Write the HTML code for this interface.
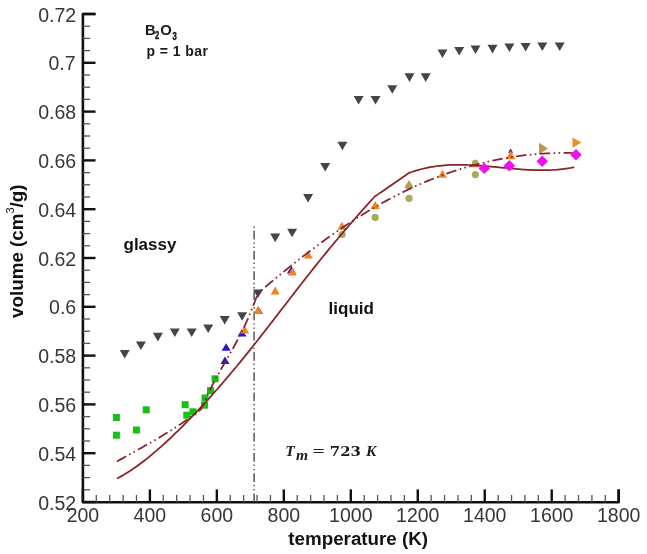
<!DOCTYPE html>
<html><head><meta charset="utf-8"><title>B2O3 volume vs temperature</title>
<style>
html,body{margin:0;padding:0;background:#fff;}
body{width:647px;height:554px;overflow:hidden;}
svg{display:block;}
.tl{font-family:"Liberation Sans",Arial,sans-serif;font-size:19.5px;fill:#363636;}
.at{font-family:"Liberation Sans",Arial,sans-serif;font-size:18.8px;font-weight:bold;fill:#111;}
.an{font-family:"Liberation Sans",Arial,sans-serif;font-size:14.8px;font-weight:bold;fill:#1a1a1a;}
.an2{font-family:"Liberation Sans",Arial,sans-serif;font-size:14px;font-weight:bold;fill:#1a1a1a;}
.sub{font-family:"Liberation Sans",Arial,sans-serif;font-size:10.4px;font-weight:bold;fill:#1a1a1a;stroke:#1a1a1a;stroke-width:0.45px;}
.gl{font-family:"Liberation Sans",Arial,sans-serif;font-size:17px;font-weight:bold;fill:#111;}
.tmi{font-family:"Liberation Serif","DejaVu Serif",serif;font-size:15.5px;font-weight:bold;font-style:italic;fill:#1a1a1a;}
.tmr{font-family:"Liberation Serif","DejaVu Serif",serif;font-size:15px;font-weight:bold;fill:#1a1a1a;}
.tmd{font-family:"DejaVu Serif","Liberation Serif",serif;font-size:13.3px;font-weight:bold;fill:#1a1a1a;}
</style></head>
<body>
<svg width="647" height="554" viewBox="0 0 647 554">
<rect width="647" height="554" fill="#fff"/>
<path d="M95.50 14.0 H82.9 V502.2 H618.7 V489.40" fill="none" stroke="#111" stroke-width="2.6" stroke-linejoin="round"/>
<line x1="82.9" y1="14.00" x2="95.50" y2="14.00" stroke="#111" stroke-width="2.4"/>
<line x1="82.9" y1="26.20" x2="90.10" y2="26.20" stroke="#555" stroke-width="1.3"/>
<line x1="82.9" y1="38.40" x2="90.10" y2="38.40" stroke="#555" stroke-width="1.3"/>
<line x1="82.9" y1="50.60" x2="90.10" y2="50.60" stroke="#555" stroke-width="1.3"/>
<line x1="82.9" y1="62.80" x2="90.10" y2="62.80" stroke="#555" stroke-width="1.3"/>
<line x1="82.9" y1="62.80" x2="95.50" y2="62.80" stroke="#111" stroke-width="2.4"/>
<line x1="82.9" y1="75.00" x2="90.10" y2="75.00" stroke="#555" stroke-width="1.3"/>
<line x1="82.9" y1="87.20" x2="90.10" y2="87.20" stroke="#555" stroke-width="1.3"/>
<line x1="82.9" y1="99.40" x2="90.10" y2="99.40" stroke="#555" stroke-width="1.3"/>
<line x1="82.9" y1="111.60" x2="90.10" y2="111.60" stroke="#555" stroke-width="1.3"/>
<line x1="82.9" y1="111.60" x2="95.50" y2="111.60" stroke="#111" stroke-width="2.4"/>
<line x1="82.9" y1="123.80" x2="90.10" y2="123.80" stroke="#555" stroke-width="1.3"/>
<line x1="82.9" y1="136.00" x2="90.10" y2="136.00" stroke="#555" stroke-width="1.3"/>
<line x1="82.9" y1="148.20" x2="90.10" y2="148.20" stroke="#555" stroke-width="1.3"/>
<line x1="82.9" y1="160.40" x2="90.10" y2="160.40" stroke="#555" stroke-width="1.3"/>
<line x1="82.9" y1="160.40" x2="95.50" y2="160.40" stroke="#111" stroke-width="2.4"/>
<line x1="82.9" y1="172.60" x2="90.10" y2="172.60" stroke="#555" stroke-width="1.3"/>
<line x1="82.9" y1="184.80" x2="90.10" y2="184.80" stroke="#555" stroke-width="1.3"/>
<line x1="82.9" y1="197.00" x2="90.10" y2="197.00" stroke="#555" stroke-width="1.3"/>
<line x1="82.9" y1="209.20" x2="90.10" y2="209.20" stroke="#555" stroke-width="1.3"/>
<line x1="82.9" y1="209.20" x2="95.50" y2="209.20" stroke="#111" stroke-width="2.4"/>
<line x1="82.9" y1="221.40" x2="90.10" y2="221.40" stroke="#555" stroke-width="1.3"/>
<line x1="82.9" y1="233.60" x2="90.10" y2="233.60" stroke="#555" stroke-width="1.3"/>
<line x1="82.9" y1="245.80" x2="90.10" y2="245.80" stroke="#555" stroke-width="1.3"/>
<line x1="82.9" y1="258.00" x2="90.10" y2="258.00" stroke="#555" stroke-width="1.3"/>
<line x1="82.9" y1="258.00" x2="95.50" y2="258.00" stroke="#111" stroke-width="2.4"/>
<line x1="82.9" y1="270.20" x2="90.10" y2="270.20" stroke="#555" stroke-width="1.3"/>
<line x1="82.9" y1="282.40" x2="90.10" y2="282.40" stroke="#555" stroke-width="1.3"/>
<line x1="82.9" y1="294.60" x2="90.10" y2="294.60" stroke="#555" stroke-width="1.3"/>
<line x1="82.9" y1="306.80" x2="90.10" y2="306.80" stroke="#555" stroke-width="1.3"/>
<line x1="82.9" y1="306.80" x2="95.50" y2="306.80" stroke="#111" stroke-width="2.4"/>
<line x1="82.9" y1="319.00" x2="90.10" y2="319.00" stroke="#555" stroke-width="1.3"/>
<line x1="82.9" y1="331.20" x2="90.10" y2="331.20" stroke="#555" stroke-width="1.3"/>
<line x1="82.9" y1="343.40" x2="90.10" y2="343.40" stroke="#555" stroke-width="1.3"/>
<line x1="82.9" y1="355.60" x2="90.10" y2="355.60" stroke="#555" stroke-width="1.3"/>
<line x1="82.9" y1="355.60" x2="95.50" y2="355.60" stroke="#111" stroke-width="2.4"/>
<line x1="82.9" y1="367.80" x2="90.10" y2="367.80" stroke="#555" stroke-width="1.3"/>
<line x1="82.9" y1="380.00" x2="90.10" y2="380.00" stroke="#555" stroke-width="1.3"/>
<line x1="82.9" y1="392.20" x2="90.10" y2="392.20" stroke="#555" stroke-width="1.3"/>
<line x1="82.9" y1="404.40" x2="90.10" y2="404.40" stroke="#555" stroke-width="1.3"/>
<line x1="82.9" y1="404.40" x2="95.50" y2="404.40" stroke="#111" stroke-width="2.4"/>
<line x1="82.9" y1="416.60" x2="90.10" y2="416.60" stroke="#555" stroke-width="1.3"/>
<line x1="82.9" y1="428.80" x2="90.10" y2="428.80" stroke="#555" stroke-width="1.3"/>
<line x1="82.9" y1="441.00" x2="90.10" y2="441.00" stroke="#555" stroke-width="1.3"/>
<line x1="82.9" y1="453.20" x2="90.10" y2="453.20" stroke="#555" stroke-width="1.3"/>
<line x1="82.9" y1="453.20" x2="95.50" y2="453.20" stroke="#111" stroke-width="2.4"/>
<line x1="82.9" y1="465.40" x2="90.10" y2="465.40" stroke="#555" stroke-width="1.3"/>
<line x1="82.9" y1="477.60" x2="90.10" y2="477.60" stroke="#555" stroke-width="1.3"/>
<line x1="82.9" y1="489.80" x2="90.10" y2="489.80" stroke="#555" stroke-width="1.3"/>
<line x1="82.9" y1="502.00" x2="90.10" y2="502.00" stroke="#555" stroke-width="1.3"/>
<line x1="82.9" y1="502.00" x2="95.50" y2="502.00" stroke="#111" stroke-width="2.4"/>
<line x1="82.90" y1="502.2" x2="82.90" y2="489.40" stroke="#111" stroke-width="2.4"/>
<line x1="96.30" y1="502.2" x2="96.30" y2="495.00" stroke="#555" stroke-width="1.3"/>
<line x1="109.69" y1="502.2" x2="109.69" y2="495.00" stroke="#555" stroke-width="1.3"/>
<line x1="123.09" y1="502.2" x2="123.09" y2="495.00" stroke="#555" stroke-width="1.3"/>
<line x1="136.48" y1="502.2" x2="136.48" y2="495.00" stroke="#555" stroke-width="1.3"/>
<line x1="149.88" y1="502.2" x2="149.88" y2="489.40" stroke="#111" stroke-width="2.4"/>
<line x1="163.27" y1="502.2" x2="163.27" y2="495.00" stroke="#555" stroke-width="1.3"/>
<line x1="176.66" y1="502.2" x2="176.66" y2="495.00" stroke="#555" stroke-width="1.3"/>
<line x1="190.06" y1="502.2" x2="190.06" y2="495.00" stroke="#555" stroke-width="1.3"/>
<line x1="203.45" y1="502.2" x2="203.45" y2="495.00" stroke="#555" stroke-width="1.3"/>
<line x1="216.85" y1="502.2" x2="216.85" y2="489.40" stroke="#111" stroke-width="2.4"/>
<line x1="230.25" y1="502.2" x2="230.25" y2="495.00" stroke="#555" stroke-width="1.3"/>
<line x1="243.64" y1="502.2" x2="243.64" y2="495.00" stroke="#555" stroke-width="1.3"/>
<line x1="257.03" y1="502.2" x2="257.03" y2="495.00" stroke="#555" stroke-width="1.3"/>
<line x1="270.43" y1="502.2" x2="270.43" y2="495.00" stroke="#555" stroke-width="1.3"/>
<line x1="283.82" y1="502.2" x2="283.82" y2="489.40" stroke="#111" stroke-width="2.4"/>
<line x1="297.22" y1="502.2" x2="297.22" y2="495.00" stroke="#555" stroke-width="1.3"/>
<line x1="310.62" y1="502.2" x2="310.62" y2="495.00" stroke="#555" stroke-width="1.3"/>
<line x1="324.01" y1="502.2" x2="324.01" y2="495.00" stroke="#555" stroke-width="1.3"/>
<line x1="337.40" y1="502.2" x2="337.40" y2="495.00" stroke="#555" stroke-width="1.3"/>
<line x1="350.80" y1="502.2" x2="350.80" y2="489.40" stroke="#111" stroke-width="2.4"/>
<line x1="364.19" y1="502.2" x2="364.19" y2="495.00" stroke="#555" stroke-width="1.3"/>
<line x1="377.59" y1="502.2" x2="377.59" y2="495.00" stroke="#555" stroke-width="1.3"/>
<line x1="390.98" y1="502.2" x2="390.98" y2="495.00" stroke="#555" stroke-width="1.3"/>
<line x1="404.38" y1="502.2" x2="404.38" y2="495.00" stroke="#555" stroke-width="1.3"/>
<line x1="417.77" y1="502.2" x2="417.77" y2="489.40" stroke="#111" stroke-width="2.4"/>
<line x1="431.17" y1="502.2" x2="431.17" y2="495.00" stroke="#555" stroke-width="1.3"/>
<line x1="444.56" y1="502.2" x2="444.56" y2="495.00" stroke="#555" stroke-width="1.3"/>
<line x1="457.96" y1="502.2" x2="457.96" y2="495.00" stroke="#555" stroke-width="1.3"/>
<line x1="471.35" y1="502.2" x2="471.35" y2="495.00" stroke="#555" stroke-width="1.3"/>
<line x1="484.75" y1="502.2" x2="484.75" y2="489.40" stroke="#111" stroke-width="2.4"/>
<line x1="498.14" y1="502.2" x2="498.14" y2="495.00" stroke="#555" stroke-width="1.3"/>
<line x1="511.54" y1="502.2" x2="511.54" y2="495.00" stroke="#555" stroke-width="1.3"/>
<line x1="524.93" y1="502.2" x2="524.93" y2="495.00" stroke="#555" stroke-width="1.3"/>
<line x1="538.33" y1="502.2" x2="538.33" y2="495.00" stroke="#555" stroke-width="1.3"/>
<line x1="551.73" y1="502.2" x2="551.73" y2="489.40" stroke="#111" stroke-width="2.4"/>
<line x1="565.12" y1="502.2" x2="565.12" y2="495.00" stroke="#555" stroke-width="1.3"/>
<line x1="578.51" y1="502.2" x2="578.51" y2="495.00" stroke="#555" stroke-width="1.3"/>
<line x1="591.91" y1="502.2" x2="591.91" y2="495.00" stroke="#555" stroke-width="1.3"/>
<line x1="605.31" y1="502.2" x2="605.31" y2="495.00" stroke="#555" stroke-width="1.3"/>
<line x1="618.70" y1="502.2" x2="618.70" y2="489.40" stroke="#111" stroke-width="2.4"/>
<text x="76.2" y="21.60" text-anchor="end" class="tl">0.72</text>
<text x="75.6" y="70.40" text-anchor="end" class="tl">0.7</text>
<text x="76.2" y="119.20" text-anchor="end" class="tl">0.68</text>
<text x="76.2" y="168.00" text-anchor="end" class="tl">0.66</text>
<text x="76.2" y="216.80" text-anchor="end" class="tl">0.64</text>
<text x="76.2" y="265.60" text-anchor="end" class="tl">0.62</text>
<text x="76.2" y="314.40" text-anchor="end" class="tl">0.6</text>
<text x="76.2" y="363.20" text-anchor="end" class="tl">0.58</text>
<text x="76.2" y="412.00" text-anchor="end" class="tl">0.56</text>
<text x="76.2" y="460.80" text-anchor="end" class="tl">0.54</text>
<text x="76.2" y="509.60" text-anchor="end" class="tl">0.52</text>
<text x="82.90" y="521.9" text-anchor="middle" class="tl">200</text>
<text x="149.88" y="521.9" text-anchor="middle" class="tl">400</text>
<text x="216.85" y="521.9" text-anchor="middle" class="tl">600</text>
<text x="283.82" y="521.9" text-anchor="middle" class="tl">800</text>
<text x="350.80" y="521.9" text-anchor="middle" class="tl">1000</text>
<text x="417.77" y="521.9" text-anchor="middle" class="tl">1200</text>
<text x="484.75" y="521.9" text-anchor="middle" class="tl">1400</text>
<text x="551.73" y="521.9" text-anchor="middle" class="tl">1600</text>
<text x="618.70" y="521.9" text-anchor="middle" class="tl">1800</text>
<text x="358.2" y="544.5" text-anchor="middle" class="at">temperature (K)</text>
<text transform="translate(23.4 251.2) rotate(-90)" text-anchor="middle" class="at">volume (cm<tspan dy="-9.5" font-size="11" font-weight="normal">3</tspan><tspan dy="9.5">/g)</tspan></text>
<text x="145.1" y="35" class="an">B</text>
<text transform="translate(155.1 39.4) scale(0.74 1)" class="sub">2</text>
<text x="160.2" y="35" class="an">O</text>
<text transform="translate(172.4 39.6) scale(0.74 1)" class="sub">3</text>
<text x="146.5" y="56.2" class="an2" textLength="61.5" lengthAdjust="spacing">p = 1 bar</text>
<text x="123.5" y="250.1" class="gl">glassy</text>
<text x="328.6" y="314.0" class="gl">liquid</text>
<text x="285.2" y="455.5" class="tmi">T</text>
<text x="296.0" y="459.9" class="tmi" font-size="14">m</text>
<text transform="translate(312.6 455.5) scale(1.45 1)" class="tmr">=</text>
<text transform="translate(329.8 455.6) scale(1.12 1)" class="tmd">723</text>
<text x="366.0" y="455.5" class="tmi">K</text>
<line x1="254.1" y1="226.5" x2="254.1" y2="502" stroke="#4a4a4a" stroke-width="1.4" stroke-dasharray="8.7 2.9 1.4 2.9 1.4 2.9" stroke-dashoffset="15.9"/>
<path d="M119.70 350.00H129.70L124.70 358.60Z" fill="#454545"/>
<path d="M135.90 341.50H145.90L140.90 350.10Z" fill="#454545"/>
<path d="M152.90 332.80H162.90L157.90 341.40Z" fill="#454545"/>
<path d="M169.80 328.50H179.80L174.80 337.10Z" fill="#454545"/>
<path d="M186.70 328.50H196.70L191.70 337.10Z" fill="#454545"/>
<path d="M203.20 324.50H213.20L208.20 333.10Z" fill="#454545"/>
<path d="M219.70 316.00H229.70L224.70 324.60Z" fill="#454545"/>
<path d="M237.10 312.20H247.10L242.10 320.80Z" fill="#454545"/>
<path d="M253.00 289.50H263.00L258.00 298.10Z" fill="#454545"/>
<path d="M270.20 233.60H280.20L275.20 242.20Z" fill="#454545"/>
<path d="M287.10 228.70H297.10L292.10 237.30Z" fill="#454545"/>
<path d="M303.10 194.00H313.10L308.10 202.60Z" fill="#454545"/>
<path d="M320.20 163.00H330.20L325.20 171.60Z" fill="#454545"/>
<path d="M337.40 141.70H347.40L342.40 150.30Z" fill="#454545"/>
<path d="M353.60 96.00H363.60L358.60 104.60Z" fill="#454545"/>
<path d="M370.50 96.00H380.50L375.50 104.60Z" fill="#454545"/>
<path d="M387.30 85.20H397.30L392.30 93.80Z" fill="#454545"/>
<path d="M404.50 73.30H414.50L409.50 81.90Z" fill="#454545"/>
<path d="M420.70 73.30H430.70L425.70 81.90Z" fill="#454545"/>
<path d="M437.50 49.50H447.50L442.50 58.10Z" fill="#454545"/>
<path d="M454.20 46.90H464.20L459.20 55.50Z" fill="#454545"/>
<path d="M470.50 45.50H480.50L475.50 54.10Z" fill="#454545"/>
<path d="M487.50 44.80H497.50L492.50 53.40Z" fill="#454545"/>
<path d="M504.40 43.50H514.40L509.40 52.10Z" fill="#454545"/>
<path d="M520.60 43.00H530.60L525.60 51.60Z" fill="#454545"/>
<path d="M537.30 42.40H547.30L542.30 51.00Z" fill="#454545"/>
<path d="M554.70 42.40H564.70L559.70 51.00Z" fill="#454545"/>
<rect x="112.90" y="414.00" width="7.0" height="7.0" fill="#14c214"/>
<rect x="112.90" y="431.70" width="7.0" height="7.0" fill="#14c214"/>
<rect x="132.90" y="426.50" width="7.0" height="7.0" fill="#14c214"/>
<rect x="142.70" y="406.30" width="7.0" height="7.0" fill="#14c214"/>
<rect x="181.60" y="401.20" width="7.0" height="7.0" fill="#14c214"/>
<rect x="183.30" y="411.70" width="7.0" height="7.0" fill="#14c214"/>
<rect x="189.50" y="408.30" width="7.0" height="7.0" fill="#14c214"/>
<rect x="201.00" y="401.70" width="7.0" height="7.0" fill="#14c214"/>
<rect x="201.50" y="394.50" width="7.0" height="7.0" fill="#14c214"/>
<rect x="207.00" y="387.10" width="7.0" height="7.0" fill="#14c214"/>
<rect x="211.60" y="375.30" width="7.0" height="7.0" fill="#14c214"/>
<path d="M226.10 343.20L230.60 350.80H221.60Z" fill="#2c14c0"/>
<path d="M225.00 356.40L229.50 364.00H220.50Z" fill="#2c14c0"/>
<path d="M242.00 329.00L246.50 336.60H237.50Z" fill="#2c14c0"/>
<path d="M258.50 306.50L263.00 314.10H254.00Z" fill="#2c14c0"/>
<path d="M291.40 266.00L295.90 273.60H286.90Z" fill="#2c14c0"/>
<path d="M510.60 148.40L513.10 152.80H508.10Z" fill="#3a1a9a"/>
<path d="M244.60 325.50L249.10 333.50H240.10Z" fill="#f08222"/>
<path d="M258.00 306.00L262.50 314.00H253.50Z" fill="#f08222"/>
<path d="M275.20 286.50L279.70 294.50H270.70Z" fill="#f08222"/>
<path d="M292.20 267.50L296.70 275.50H287.70Z" fill="#f08222"/>
<path d="M308.30 250.60L312.80 258.60H303.80Z" fill="#f08222"/>
<path d="M342.00 221.80L346.50 229.80H337.50Z" fill="#f08222"/>
<path d="M375.20 200.90L379.70 208.90H370.70Z" fill="#f08222"/>
<path d="M409.00 180.00L413.50 188.00H404.50Z" fill="#f08222"/>
<path d="M442.40 169.80L446.90 177.80H437.90Z" fill="#f08222"/>
<path d="M475.30 159.20L479.80 167.20H470.80Z" fill="#f08222"/>
<path d="M510.70 150.60L515.50 159.20H505.90Z" fill="#f08222"/>
<circle cx="342.10" cy="234.50" r="3.6" fill="#a8aa5c"/>
<circle cx="375.20" cy="217.40" r="3.6" fill="#a8aa5c"/>
<circle cx="409.10" cy="198.30" r="3.6" fill="#a8aa5c"/>
<circle cx="475.40" cy="174.60" r="3.6" fill="#a8aa5c"/>
<circle cx="409.00" cy="186.40" r="3.4" fill="#aca45c"/>
<circle cx="475.20" cy="163.00" r="3.2" fill="#b0a460"/>
<path d="M539.00 142.85L548.00 148.60L539.00 154.35Z" fill="#b89a4c"/>
<path d="M572.50 137.50L581.50 142.60L572.50 147.70Z" fill="#e8902a"/>
<path d="M117.00 478.58 L119.02 477.50 L121.03 476.38 L123.05 475.21 L125.06 474.01 L127.08 472.77 L129.09 471.49 L131.11 470.17 L133.12 468.81 L135.14 467.42 L137.16 466.00 L139.17 464.53 L141.19 463.04 L143.20 461.51 L145.22 459.95 L147.23 458.36 L149.25 456.74 L151.27 455.09 L153.28 453.40 L155.30 451.70 L157.31 449.96 L159.33 448.20 L161.34 446.41 L163.36 444.59 L165.38 442.76 L167.39 440.89 L169.41 439.01 L171.42 437.11 L173.44 435.18 L175.45 433.23 L177.47 431.27 L179.48 429.28 L181.50 427.28 L183.52 425.26 L185.53 423.22 L187.55 421.17 L189.56 419.10 L191.58 417.02 L193.59 414.92 L195.61 412.80 L197.62 410.67 L199.64 408.52 L201.66 406.35 L203.67 404.17 L205.69 401.98 L207.70 399.77 L209.72 397.54 L211.73 395.30 L213.75 393.04 L215.77 390.77 L217.78 388.48 L219.80 386.18 L221.81 383.86 L223.83 381.53 L225.84 379.18 L227.86 376.82 L229.88 374.44 L231.89 372.05 L233.91 369.64 L235.92 367.22 L237.94 364.79 L239.95 362.34 L241.97 359.88 L243.98 357.40 L246.00 354.91 L248.02 352.41 L250.03 349.89 L252.05 347.36 L254.06 344.82 L256.08 342.27 L258.09 339.72 L260.11 337.15 L262.12 334.57 L264.14 331.99 L266.16 329.40 L268.17 326.81 L270.19 324.21 L272.20 321.60 L274.22 318.99 L276.23 316.38 L278.25 313.77 L280.27 311.15 L282.28 308.54 L284.30 305.92 L286.31 303.30 L288.33 300.69 L290.34 298.07 L292.36 295.46 L294.38 292.85 L296.39 290.25 L298.41 287.65 L300.42 285.05 L302.44 282.47 L304.45 279.88 L306.47 277.31 L308.48 274.74 L310.50 272.19 L312.52 269.64 L314.53 267.10 L316.55 264.58 L318.56 262.06 L320.58 259.56 L322.59 257.07 L324.61 254.59 L326.62 252.12 L328.64 249.66 L330.66 247.22 L332.67 244.78 L334.69 242.36 L336.70 239.95 L338.72 237.55 L340.73 235.16 L342.75 232.78 L344.77 230.42 L346.78 228.06 L348.80 225.72 L350.81 223.39 L352.83 221.07 L354.84 218.76 L356.86 216.46 L358.88 214.17 L360.89 211.90 L362.91 209.63 L364.92 207.38 L366.94 205.13 L368.95 202.90 L370.97 200.68 L372.98 198.47 L375.00 196.27 L377.16 194.90 L379.32 193.40 L381.49 191.91 L383.65 190.41 L385.81 188.91 L387.98 187.42 L390.14 185.92 L392.30 184.43 L394.46 182.94 L396.62 181.45 L398.79 179.97 L400.95 178.49 L403.11 177.01 L405.28 175.53 L407.44 174.06 L409.60 172.59 L411.63 172.02 L413.66 171.33 L415.70 170.69 L417.73 170.08 L419.76 169.52 L421.79 168.99 L423.82 168.49 L425.86 168.04 L427.89 167.61 L429.92 167.23 L431.95 166.87 L433.99 166.55 L436.02 166.25 L438.05 165.99 L440.08 165.76 L442.11 165.55 L444.15 165.37 L446.18 165.22 L448.21 165.09 L450.24 164.99 L452.27 164.91 L454.31 164.85 L456.34 164.82 L458.37 164.80 L460.40 164.81 L462.43 164.83 L464.47 164.87 L466.50 164.93 L468.53 165.00 L470.56 165.09 L472.60 165.20 L474.63 165.31 L476.66 165.44 L478.69 165.58 L480.72 165.73 L482.76 165.88 L484.79 166.05 L486.82 166.23 L488.85 166.41 L490.88 166.59 L492.92 166.78 L494.95 166.97 L496.98 167.17 L499.01 167.37 L501.04 167.57 L503.08 167.77 L505.11 167.96 L507.14 168.16 L509.17 168.35 L511.20 168.54 L513.24 168.72 L515.27 168.90 L517.30 169.07 L519.33 169.23 L521.37 169.38 L523.40 169.53 L525.43 169.66 L527.46 169.78 L529.49 169.89 L531.53 169.99 L533.56 170.07 L535.59 170.14 L537.62 170.19 L539.65 170.22 L541.69 170.24 L543.72 170.23 L545.75 170.21 L547.78 170.16 L549.81 170.09 L551.85 170.00 L553.88 169.89 L555.91 169.75 L557.94 169.58 L559.98 169.39 L562.01 169.17 L564.04 168.93 L566.07 168.65 L568.10 168.34 L570.14 168.00 L572.17 167.63 L574.20 167.23" fill="none" stroke="#8a2229" stroke-width="1.75" stroke-linejoin="round"/>
<path d="M117.00 461.44 L119.05 460.28 L121.10 459.12 L123.15 457.97 L125.20 456.82 L127.26 455.68 L129.31 454.53 L131.36 453.39 L133.41 452.25 L135.46 451.11 L137.51 449.96 L139.56 448.82 L141.61 447.67 L143.67 446.51 L145.72 445.35 L147.77 444.19 L149.82 443.02 L151.87 441.84 L153.92 440.66 L155.97 439.46 L158.02 438.26 L160.08 437.04 L162.13 435.82 L164.18 434.58 L166.23 433.33 L168.28 432.06 L170.33 430.78 L172.38 429.49 L174.43 428.18 L176.49 426.85 L178.54 425.50 L180.59 424.13 L182.64 422.75 L184.69 421.34 L186.74 419.91 L188.79 418.46 L190.84 416.99 L192.90 415.49 L194.95 413.97 L197.00 412.42 L199.05 410.85 L201.10 409.25 L203.24 404.18 L205.37 399.41 L207.51 394.85 L209.65 390.47 L211.79 386.24 L213.92 382.16 L216.06 378.19 L218.20 374.32 L220.33 370.52 L222.47 366.78 L224.61 363.07 L226.74 359.37 L228.88 355.66 L231.02 351.92 L233.16 348.12 L235.29 344.25 L237.43 340.28 L239.57 336.19 L241.70 331.97 L243.84 327.58 L245.98 323.01 L248.11 318.24 L250.25 313.24 L252.39 308.00 L254.53 302.48 L256.66 296.68 L258.80 290.57 L260.82 290.84 L262.84 289.11 L264.86 287.39 L266.88 285.68 L268.90 283.98 L270.92 282.28 L272.94 280.59 L274.96 278.91 L276.98 277.23 L279.00 275.56 L281.02 273.90 L283.04 272.25 L285.06 270.61 L287.09 268.97 L289.11 267.34 L291.13 265.72 L293.15 264.11 L295.17 262.50 L297.19 260.91 L299.21 259.32 L301.23 257.74 L303.25 256.17 L305.27 254.61 L307.29 253.06 L309.31 251.52 L311.33 249.99 L313.35 248.47 L315.37 246.95 L317.39 245.45 L319.41 243.95 L321.43 242.47 L323.45 241.00 L325.47 239.53 L327.49 238.08 L329.51 236.63 L331.53 235.20 L333.55 233.78 L335.57 232.37 L337.59 230.97 L339.62 229.58 L341.64 228.20 L343.66 226.83 L345.68 225.47 L347.70 224.13 L349.72 222.79 L351.74 221.47 L353.76 220.16 L355.78 218.86 L357.80 217.57 L359.82 216.30 L361.84 215.03 L363.86 213.78 L365.88 212.54 L367.90 211.32 L369.92 210.10 L371.94 208.90 L373.96 207.71 L375.98 206.54 L378.00 205.38 L380.02 204.23 L382.04 203.09 L384.06 201.97 L386.08 200.86 L388.10 199.76 L390.12 198.68 L392.15 197.61 L394.17 196.55 L396.19 195.51 L398.21 194.48 L400.23 193.46 L402.25 192.46 L404.27 191.47 L406.29 190.49 L408.31 189.52 L410.33 188.57 L412.35 187.63 L414.37 186.70 L416.39 185.79 L418.41 184.89 L420.43 184.00 L422.45 183.13 L424.47 182.27 L426.49 181.42 L428.51 180.58 L430.53 179.76 L432.55 178.95 L434.57 178.15 L436.59 177.36 L438.61 176.59 L440.63 175.83 L442.65 175.09 L444.68 174.35 L446.70 173.63 L448.72 172.92 L450.74 172.23 L452.76 171.54 L454.78 170.87 L456.80 170.21 L458.82 169.57 L460.84 168.93 L462.86 168.31 L464.88 167.71 L466.90 167.11 L468.92 166.53 L470.94 165.96 L472.96 165.40 L474.98 164.85 L477.00 164.32 L479.02 163.80 L481.04 163.29 L483.06 162.80 L485.08 162.31 L487.10 161.84 L489.12 161.38 L491.14 160.94 L493.16 160.50 L495.18 160.08 L497.21 159.67 L499.23 159.27 L501.25 158.89 L503.27 158.52 L505.29 158.16 L507.31 157.81 L509.33 157.47 L511.35 157.15 L513.37 156.84 L515.39 156.54 L517.41 156.25 L519.43 155.97 L521.45 155.71 L523.47 155.46 L525.49 155.22 L527.51 154.99 L529.53 154.78 L531.55 154.57 L533.57 154.38 L535.59 154.20 L537.61 154.04 L539.63 153.88 L541.65 153.74 L543.67 153.60 L545.69 153.48 L547.71 153.38 L549.74 153.28 L551.76 153.20 L553.78 153.12 L555.80 153.06 L557.82 153.01 L559.84 152.98 L561.86 152.95 L563.88 152.94 L565.90 152.94 L567.92 152.95 L569.94 152.97 L571.96 153.00 L573.98 153.05 L576.00 153.10" fill="none" stroke="#8a2229" stroke-width="1.75" stroke-dasharray="10.5 3.4 1.6 3.4 1.6 3.4"/>
<path d="M484.30 162.70L490.10 168.40L484.30 174.10L478.50 168.40Z" fill="#ee10ee"/>
<path d="M509.30 160.10L515.10 165.80L509.30 171.50L503.50 165.80Z" fill="#ee10ee"/>
<path d="M542.20 155.50L548.00 161.20L542.20 166.90L536.40 161.20Z" fill="#ee10ee"/>
<path d="M576.00 149.00L581.80 154.70L576.00 160.40L570.20 154.70Z" fill="#ee10ee"/>
</svg>
</body></html>
